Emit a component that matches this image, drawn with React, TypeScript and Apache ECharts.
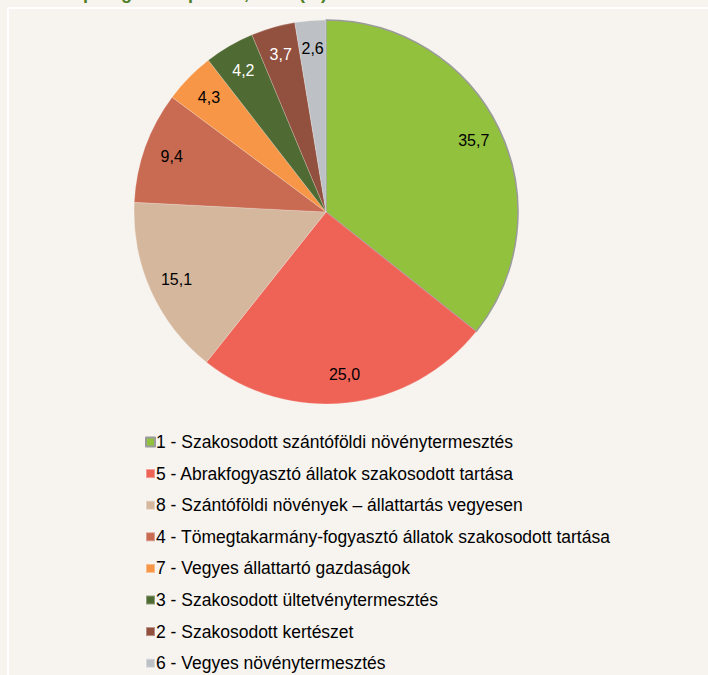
import React, { useEffect, useRef } from "react";
import * as echarts from "echarts";

const categories = [
  "1 - Szakosodott szántóföldi növénytermesztés",
  "5 - Abrakfogyasztó állatok szakosodott tartása",
  "8 - Szántóföldi növények – állattartás vegyesen",
  "4 - Tömegtakarmány-fogyasztó állatok szakosodott tartása",
  "7 - Vegyes állattartó gazdaságok",
  "3 - Szakosodott ültetvénytermesztés",
  "2 - Szakosodott kertészet",
  "6 - Vegyes növénytermesztés",
];
const values = [35.7, 25.0, 15.1, 9.4, 4.3, 4.2, 3.7, 2.6];
const colors = ["#92C13E", "#EF6357", "#D5B79D", "#C96B53", "#F79646", "#4F6A32", "#92503F", "#BDC0C4"];
const labelColors = ["#000", "#000", "#000", "#000", "#000", "#fff", "#fff", "#000"];
const titleText = "típológiai csoportok, 2013 (%)";

const FONT = "'Liberation Sans', Arial, sans-serif";

export default function App() {
  const ref = useRef<HTMLDivElement>(null);
  useEffect(() => {
    const chart = echarts.init(ref.current!, undefined, { renderer: "svg" });
    const fmt = (v: number) => v.toFixed(1).replace(".", ",");
    const mainData = values.map((v, i) => ({
      name: categories[i],
      value: v,
      itemStyle: {
        color: colors[i],
        borderColor: i === 0 ? "#9A9A9A" : "rgba(255,255,255,0.35)",
        borderWidth: i === 0 ? 1.5 : 0.6,
      },
    }));
    const labelData = values.map((v, i) => ({
      name: categories[i],
      value: v,
      label: { color: labelColors[i] },
    }));
    chart.setOption({
      animation: false,
      backgroundColor: "#F7F3EF",
      graphic: [
        {
          type: "line",
          shape: { x1: 8, y1: 8, x2: 708, y2: 8 },
          style: { stroke: "#FFFFFF", lineWidth: 2 },
          silent: true,
        },
        {
          type: "line",
          shape: { x1: 8, y1: 8, x2: 8, y2: 675 },
          style: { stroke: "#FFFFFF", lineWidth: 2 },
          silent: true,
        },
        {
          type: "text",
          x: 72,
          y: -16,
          style: {
            text: titleText,
            font: "bold 18px " + FONT,
            fill: "#4E7F25",
          },
          silent: true,
        },
      ],
      legend: {
        orient: "vertical",
        left: 140,
        top: 428,
        height: 300,
        icon: "rect",
        itemWidth: 9,
        itemHeight: 9,
        itemGap: 13.6,
        selectedMode: false,
        data: categories,
        textStyle: {
          fontFamily: FONT,
          fontSize: 17.5,
          lineHeight: 16,
          color: "#000",
          padding: [0, 0, 0, -4],
        },
      },
      series: [
        {
          type: "pie",
          center: [326, 212],
          radius: [0, 192],
          startAngle: 90,
          clockwise: true,
          label: { show: false },
          labelLine: { show: false },
          emphasis: { disabled: true },
          data: mainData,
        },
        {
          type: "pie",
          center: [326, 212],
          radius: [130, 192],
          startAngle: 90,
          clockwise: true,
          silent: true,
          legendHoverLink: false,
          itemStyle: { color: "transparent", borderWidth: 0 },
          label: {
            show: true,
            position: "inside",
            fontFamily: FONT,
            fontSize: 16,
            formatter: (p: any) => fmt(p.value),
          },
          labelLine: { show: false },
          emphasis: { disabled: true },
          data: labelData,
        },
      ],
    });
    return () => chart.dispose();
  }, []);
  return <div ref={ref} style={{ width: 708, height: 675, position: "fixed", left: 0, top: 0 }} />;
}
